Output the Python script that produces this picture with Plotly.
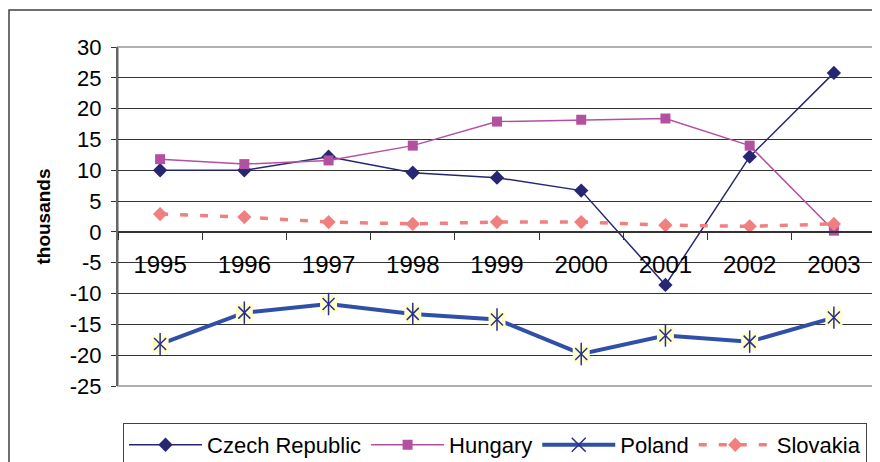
import plotly.graph_objects as go

years = ["1995", "1996", "1997", "1998", "1999", "2000", "2001", "2002", "2003"]
czech = [10.0, 10.0, 12.2, 9.6, 8.8, 6.7, -8.6, 12.2, 25.8]
hungary = [11.8, 11.0, 11.6, 14.0, 17.9, 18.2, 18.4, 14.0, 0.2]
poland = [-18.2, -13.1, -11.7, -13.3, -14.2, -19.8, -16.8, -17.8, -13.9]
slovakia = [2.9, 2.4, 1.6, 1.3, 1.6, 1.6, 1.1, 0.9, 1.3]
y_ticks = [30, 25, 20, 15, 10, 5, 0, -5, -10, -15, -20, -25]

FONT = "Arial, Liberation Sans, sans-serif"

fig = go.Figure()

fig.add_trace(go.Scatter(
    x=years, y=czech, name="Czech Republic", mode="lines+markers",
    line=dict(color="#262673", width=1.5),
    marker=dict(symbol="diamond", size=11, color="#262673")))

fig.add_trace(go.Scatter(
    x=years, y=hungary, name="Hungary", mode="lines+markers",
    line=dict(color="#B450A0", width=1.5),
    marker=dict(symbol="square", size=10, color="#B450A0")))

fig.add_trace(go.Scatter(
    x=years, y=poland, name="Poland", mode="lines+markers",
    line=dict(color="#3050A8", width=4),
    marker=dict(symbol="x-thin-open", size=14, color="#2A2F8C",
                line=dict(color="#2A2F8C", width=1.5))))
fig.add_trace(go.Scatter(
    x=years, y=poland, showlegend=False, mode="markers", hoverinfo="skip",
    marker=dict(symbol="square", size=17, color="#FFFFCC", line=dict(width=0))))
fig.add_trace(go.Scatter(
    x=years, y=poland, showlegend=False, mode="markers", hoverinfo="skip",
    marker=dict(symbol="x-thin-open", size=12, color="#2A2F8C",
                line=dict(color="#2A2F8C", width=1.5))))
fig.add_trace(go.Scatter(
    x=years, y=poland, showlegend=False, mode="markers", hoverinfo="skip",
    marker=dict(symbol="line-ns-open", size=16, color="#2A2F8C",
                line=dict(color="#2A2F8C", width=1.5))))

fig.add_trace(go.Scatter(
    x=years, y=slovakia, name="Slovakia", mode="lines+markers",
    line=dict(color="#F08080", width=3.5, dash="8px,12px"),
    marker=dict(symbol="diamond", size=11, color="#F08080")))

fig.update_layout(
    width=880, height=462,
    margin=dict(l=110, r=12, t=39, b=84, autoexpand=False),
    paper_bgcolor="white", plot_bgcolor="white",
    font=dict(family=FONT, size=22, color="black"),
    showlegend=True,
    legend=dict(orientation="h", x=0.0066, xanchor="left", y=-0.109, yanchor="top",
                bordercolor="#444444", borderwidth=1, bgcolor="white",
                font=dict(size=22), itemwidth=73, tracegroupgap=0),
    xaxis=dict(type="category", range=[-0.5, 8.5], anchor="free", position=25 / 55,
               showline=True, linecolor="#333333", linewidth=1.5,
               ticks="outside", tickson="boundaries", ticklen=7, tickcolor="#333333",
               showgrid=False, zeroline=False, tickfont=dict(size=24),
               ticklabelstandoff=12),
    yaxis=dict(range=[-25, 30], tickvals=y_ticks, ticktext=[str(v) for v in y_ticks],
               showline=True, linecolor="#666666", linewidth=2,
               ticks="outside", ticklen=5, tickcolor="#333333",
               showgrid=True, gridcolor="#333333", gridwidth=1, zeroline=False,
               tickfont=dict(size=22), ticklabelstandoff=5,
               title=dict(text="<b>thousands</b>", font=dict(size=19), standoff=14)),
    shapes=[
        dict(type="rect", xref="x domain", yref="y domain", x0=0, x1=1, y0=0, y1=1,
             line=dict(color="#B0B0B0", width=2), layer="below"),
        dict(type="rect", xref="paper", yref="paper", x0=-0.1438, x1=1.03,
             y0=-0.3, y1=1.109, line=dict(color="#404040", width=1.5)),
    ],
)

fig.write_html("out.html")
